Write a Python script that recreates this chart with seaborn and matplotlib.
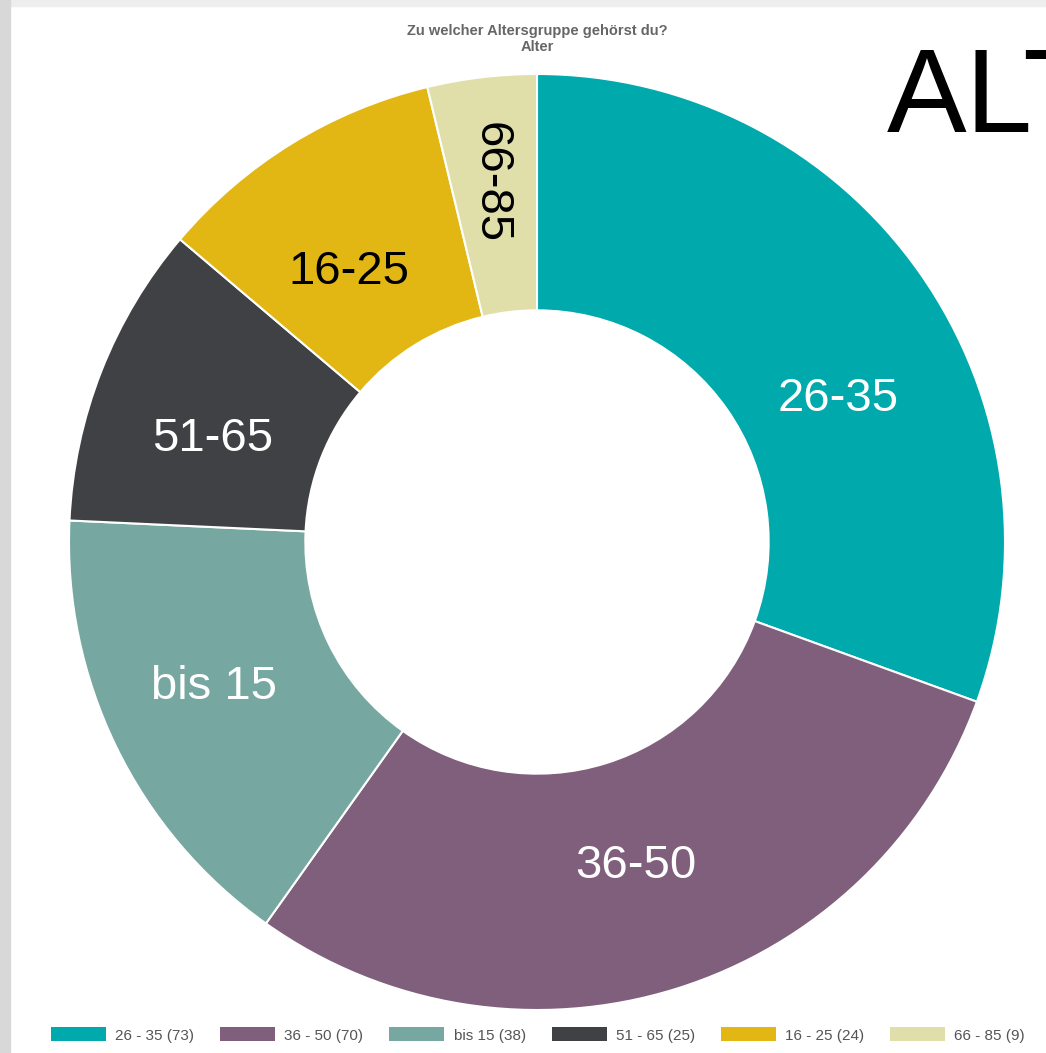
import matplotlib
matplotlib.use("Agg")
import matplotlib.pyplot as plt
from matplotlib.patches import Rectangle, Patch
import numpy as np
import seaborn as sns
from matplotlib import font_manager

# Data
groups = ["26-35", "36-50", "bis 15", "51-65", "16-25", "66-85"]
legend_names = ["26 - 35", "36 - 50", "bis 15", "51 - 65", "16 - 25", "66 - 85"]
counts = [73, 70, 38, 25, 24, 9]
colors = ["#00A9AC", "#7F5F7C", "#76A8A1", "#404145", "#E2B714", "#E0DEA9"]
label_colors = ["white", "white", "white", "white", "black", "black"]

# small label nudges (pixels, x right / y down), as in the original chart
nudges = [(21, 53), (-3, -2), (-16, -5), (-6, 22), (-9, 21), (-6, -20)]

sns.set_style("white")
palette = sns.color_palette(colors)

names = {f.name for f in font_manager.fontManager.ttflist}
narrow = "Liberation Sans Narrow" if "Liberation Sans Narrow" in names else "Liberation Sans"
plt.rcParams["font.family"] = ["Liberation Sans", "DejaVu Sans"]

W, H = 1046, 1053
fig = plt.figure(figsize=(W / 100, H / 100), dpi=100, facecolor="white")

# page frame (gray border top / left)
fig.patches.append(Rectangle((0, 1 - 6 / H), 1, 6 / H, transform=fig.transFigure,
                             color="#eeeeee", zorder=0))
fig.patches.append(Rectangle((0, 0), 10 / W, 1, transform=fig.transFigure,
                             color="#d8d8d8", zorder=0))

cx, cy, R = 537, 542, 468
ax = fig.add_axes([(cx - R) / W, (H - cy - R) / H, 2 * R / W, 2 * R / H])
wedges, _ = ax.pie(counts, colors=palette, startangle=90, counterclock=False,
                   wedgeprops=dict(width=0.505, edgecolor="white", linewidth=1.5))
ax.set_xlim(-1, 1)
ax.set_ylim(-1, 1)
ax.axis("off")

total = sum(counts)
start = 0.0
for name, c, lc, (dx, dy) in zip(groups, counts, label_colors, nudges):
    mid = (start + c / 2) / total * 2 * np.pi
    start += c
    r = 0.73
    x = r * np.sin(mid) + dx / R
    y = r * np.cos(mid) - dy / R
    rot = -90 if c / total < 0.05 else 0
    ax.text(x, y, name, ha="center", va="center", fontsize=34, color=lc, rotation=rot)

fig.text(cx / W, 1 - 39 / H, "Zu welcher Altersgruppe gehörst du?\nAlter",
         ha="center", va="center", fontsize=10.5, fontweight="bold", color="#666666",
         family=[narrow, "DejaVu Sans"], linespacing=1.15)

fig.text(887 / W, 1 - 132 / H, "ALTER", ha="left", va="baseline", fontsize=86,
         color="black")

handles = [Patch(facecolor=col, edgecolor="none") for col in colors]
labels = [f"{n} ({v})" for n, v in zip(legend_names, counts)]
fig.legend(handles, labels, loc="center", bbox_to_anchor=(538 / W, 1 - 1035 / H),
           ncol=6, frameon=False, handlelength=3.6, handleheight=1.0,
           handletextpad=0.6, columnspacing=1.7,
           prop={"family": [narrow, "DejaVu Sans"], "size": 11}, labelcolor="#555555")

fig.savefig("out.png", dpi=100, facecolor="white")
